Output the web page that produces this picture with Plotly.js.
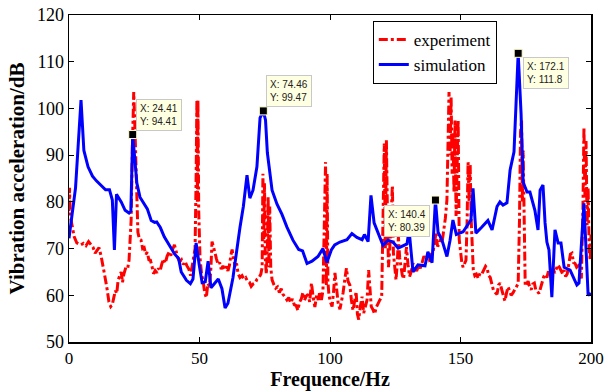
<!DOCTYPE html>
<html>
<head>
<meta charset="utf-8">
<script src="https://cdn.plot.ly/plotly-3.0.1.min.js"></script>
<style>html,body{margin:0;padding:0;background:#fff;}#chart{width:604px;height:391px;}</style>
</head>
<body>
<div id="chart"></div>
<script>
// Experiment (red dash-dot)
const expFreq = [0,0.2,0.5,1.2,2,3,4.5,5.5,6.5,7.5,8.3,9.2,10,10.8,11.5,12.3,13,13.6,14.6,15.3,16,16.6,17.2,17.8,18.3,18.8,19.5,20,20.5,21,21.8,22.5,23,23.8,24.3,24.8,25.3,25.8,26.4,27,27.6,28.2,28.8,29.4,30,30.6,31.2,31.8,32.4,33,33.7,34.3,34.9,35.6,36.3,36.9,37.6,38.3,39,39.7,40.4,41,41.7,42.4,43.1,43.8,44.5,45.2,45.9,46.6,47.2,47.8,48.3,48.7,49,49.2,49.4,49.7,50.2,50.8,51.4,52,52.6,53.2,53.8,54.3,54.8,55.3,55.9,56.5,57.1,57.7,58.3,59,59.7,60.4,60.9,61.5,62,62.5,63,63.6,64.2,64.8,65.5,66.3,67,67.7,68.4,69.1,69.8,70.5,71.3,72,72.8,73.5,74,74.3,74.6,74.9,75.2,75.6,76,76.3,76.6,76.9,77.3,77.8,78.5,79.2,79.9,80.6,81.3,82,82.8,83.5,84.2,84.9,85.6,86.3,87,87.7,88.3,89,89.6,90.2,90.9,91.6,92.2,92.9,93.5,94.2,94.9,95.5,96.1,96.7,97.3,97.8,98.3,98.6,98.9,99.2,99.6,100.2,100.8,101.4,101.9,102.5,103.1,103.8,104.4,105,105.7,106.3,106.9,107.6,108.2,108.8,109.4,110,110.5,111,111.6,112.3,112.9,113.5,114.2,114.8,115.3,115.8,116.4,117.1,117.7,118.4,119.1,119.8,120.3,120.8,121.2,121.6,122,122.4,122.9,123.4,123.9,124.3,124.8,125.3,125.8,126.2,126.7,127.2,127.7,128.2,128.8,129.3,129.9,130.5,131.1,131.8,132.5,133.2,133.9,134.6,135.3,136,136.7,137.4,138.1,138.8,139.5,140.1,140.6,141.2,141.8,142.4,143,143.6,144.2,144.8,145.3,145.6,146,146.4,146.8,147.1,147.5,147.9,148.3,148.7,149.1,149.5,149.9,150.5,151,151.6,152.1,152.5,152.9,153.3,153.7,154.1,154.5,154.9,155.5,156.1,156.8,157.5,158.2,158.9,159.6,160.2,160.8,161.4,162,162.6,163.3,164,164.6,165.2,165.8,166.4,167,167.6,168.2,168.8,169.4,170.1,170.8,171.5,172.1,172.6,173,173.4,173.7,174,174.4,174.8,175.3,175.9,176.5,177.1,177.7,178.3,178.9,179.5,180.1,180.7,181.3,181.9,182.5,183.1,183.7,184.3,184.9,185.5,186.1,186.7,187.3,187.9,188.5,189.1,189.7,190.3,190.9,191.5,192.1,192.7,193.3,193.9,194.5,195.1,195.7,196.3,196.9,197.3,197.7,198.1,198.5,198.9,199.3,199.7,200];
const expLevel = [78,83,77,74.5,72.5,71.2,70.8,71.1,70.6,71.5,70.8,70.3,69,69.6,70.2,68.4,66.5,64.5,61.3,58.6,57.6,58,59.6,61,60.4,63.2,64.3,65,62.8,64.5,66,65.8,67.5,76,92,103.5,95,82,73.5,72,71.8,70,70.2,68.8,69.2,67.6,67.5,66.2,64.6,65.3,64.8,65.8,65.2,66.8,67.8,66.9,68.4,69.2,68.5,69.8,70.8,69.5,68,67.2,67.6,66.6,67.2,66.3,65.6,64.2,66.4,68.5,70,85,101.8,80,101.8,78,68,64.5,63,60.5,59.5,62.5,62,65,71.5,70.5,69.4,67.8,66.6,67,65.6,66.3,65.4,66.2,65.2,66.5,68.5,69.8,68,66.3,66.8,64.6,63.8,64.2,63.5,63.8,63,62.8,61.9,62.4,62.6,63.4,63.8,64.5,66,86,72,84,68,64.5,70,81,66,79,66,63.3,62.3,61.5,61.8,60.6,61.4,60.2,59.6,59,59.5,58.4,59.2,58,57.8,56.8,58.5,59.2,60.6,58.9,59.8,60.2,58.6,62.6,59.8,57.5,60,59,60.8,59,61,80,88.5,62,86,63,60,58.5,57.6,61,64.8,61.6,58.4,57,58.8,60.5,63.5,65.8,63,62.2,59,56.8,58.6,60.8,56,54.8,57.5,59.7,56.2,57.6,59,65.4,62,57.6,57,56,57.4,58.3,59,59.6,75,92.5,70,93.2,78,66,70,76,83.5,69,66,63.3,67,72.5,68,66,64.3,63.5,67.5,70.3,66.5,64,65,66.8,66,65.2,66.3,65.8,67,68.4,67.6,68,67.2,68.8,69.3,72,73.3,70.5,70.8,72,71.6,74,76.5,80.4,95,103.5,90,102.4,86,95,82,97.5,77,86,97.5,72,69.5,67,66,66.8,67.5,75,88.5,80,88,76,70,65.4,64.2,64.5,63.6,64.8,64.6,65.6,66.2,65.8,64.2,63.8,62.3,61.1,60.6,60.2,62.2,62.6,61.2,60,58.8,60.4,61.8,61,60,60.5,61.2,61.8,62.5,76,95,97.5,80,91,72,62,62.4,63,61.8,61.2,62.4,62.6,61,60.8,60.4,61.6,62.3,64,64.5,63.8,65.2,65.4,64.3,65.6,64.8,65.5,66.5,66,65.2,64.6,65.4,64,64.6,66.5,68.8,69,67,66.8,66,66.3,65.4,63.6,78,96,80,93,75,83,70,67.5,73];

// Simulation (blue solid)
const simFreq = [0,2.5,4.6,5.7,7.3,9,10.5,12.5,14,15.5,16.6,17.4,18.2,20,21.5,23,23.7,24.41,25.3,26,27.2,29,30,31.5,32.8,33.6,35,36.5,38.7,40.5,42,43,45,46.5,47.5,48.7,49.9,51,52.2,53.3,54.4,56,57.2,58.6,59.8,60.9,62.8,65.5,66.8,68.2,69.3,70.5,72,73.2,74.46,75.3,76,77.8,79.7,81.6,83.5,85.8,88,89.5,91.2,93.1,95.4,97.3,98.8,100.5,101.8,103.8,106.5,108.4,110.3,112.3,113.2,114.6,115.7,116.9,118.6,120.3,122.2,124.1,126.1,128,129.5,130.3,131.8,133.7,136.4,137.5,139.1,140.4,141.4,142.9,144.8,146,147.1,148.4,151,152.9,154,154.8,155.9,158.2,160.5,162.1,164,165.1,166.3,167.8,169,170.5,172.1,173.2,174,175.5,176.6,178.5,179.7,180.5,181.6,182.4,183.1,183.9,185,186.2,187.4,188.5,189.7,192,194.6,195.4,197.3,198.9,200];
const simLevel = [72.2,83,101.8,91,87.5,85.5,84.5,83.3,82.6,82.6,80.4,69.7,81.6,80,78.2,77.6,78,94.41,89,84,81,79.3,78.5,76,75.6,75.7,74.5,72.5,70.5,68.8,67.9,65,63.2,62.5,63.5,71.2,66.5,62.7,62.9,67.3,61.6,62.8,63.5,61.4,57.3,58.3,63.7,74.5,79,85.7,80.8,82.5,87.5,98,99.47,97.5,90.5,82.5,79.5,77.3,74.6,71.8,69.8,69.5,66.8,67.3,68.3,70,67,69.7,70.8,71.4,71.9,73.2,72.4,71.9,73,71.5,81.4,75.5,73,70.7,71.8,71.4,70.1,70.7,71,74,65,66.5,66.3,69.3,67,80.39,73.5,71.8,68.3,71.8,76.1,73,73.6,75.2,76.1,82.9,73.3,74.6,76,74,79,80,79.3,79.8,86.8,90.7,111.8,99,84.2,82.1,82.1,78.2,74,82.5,83.6,75.5,71.4,69.7,59.6,74,71.2,71.2,66,65.4,62.2,62.6,79.7,60,60.4];

// Data tips
const tipX = [24.41, 74.46, 140.4, 172.1];
const tipY = [94.41, 99.47, 80.39, 111.8];
const tipText = ['X: 24.41<br>Y: 94.41', 'X: 74.46<br>Y: 99.47', 'X: 140.4<br>Y: 80.39', 'X: 172.1<br>Y: 111.8'];

const xTicks = [0, 50, 100, 150, 200];
const yTicks = [50, 60, 70, 80, 90, 100, 110, 120];

const serif = 'Liberation Serif, Times New Roman, serif';

const traces = [
  {x: expFreq, y: expLevel, type: 'scatter', mode: 'lines', name: 'experiment',
   line: {color: '#ff0000', width: 3, dash: 'dashdot'}},
  {x: simFreq, y: simLevel, type: 'scatter', mode: 'lines', name: 'simulation',
   line: {color: '#0000ff', width: 3}},
  {x: tipX, y: tipY, type: 'scatter', mode: 'markers', showlegend: false, hoverinfo: 'skip',
   marker: {symbol: 'square', size: 8, color: '#000', line: {color: '#ffffd0', width: 1}}}
];

const tipPos = [
  {xanchor: 'left', yanchor: 'bottom', xshift: 3, yshift: 4},
  {xanchor: 'left', yanchor: 'bottom', xshift: 3, yshift: 4},
  {xanchor: 'right', yanchor: 'top', xshift: -5, yshift: -5},
  {xanchor: 'left', yanchor: 'top', xshift: 5, yshift: -4}
];

const annotations = tipX.map((x, i) => Object.assign({
  x: x, y: tipY[i], xref: 'x', yref: 'y', text: tipText[i], showarrow: false, align: 'left',
  font: {family: 'Liberation Sans, Arial, sans-serif', size: 10, color: '#222'},
  bgcolor: '#ffffe1', bordercolor: '#c8c8c8', borderwidth: 1, borderpad: 3
}, tipPos[i]));

const layout = {
  width: 604, height: 391,
  margin: {l: 69, r: 13, t: 15, b: 49},
  paper_bgcolor: '#fff', plot_bgcolor: '#fff',
  showlegend: true,
  legend: {x: 0.582, y: 0.982, xanchor: 'left', yanchor: 'top',
    bgcolor: '#fff', bordercolor: '#000', borderwidth: 1,
    font: {family: serif, size: 17, color: '#000'}, tracegroupgap: 0},
  xaxis: {range: [0, 200], tickvals: xTicks, ticktext: xTicks.map(String),
    ticks: 'inside', ticklen: 5, tickcolor: '#000', tickwidth: 1,
    showline: true, linecolor: '#000', linewidth: 1.5, mirror: 'ticks',
    showgrid: false, zeroline: false,
    tickfont: {family: serif, size: 17, color: '#000'},
    title: {text: '<b>Frequence/Hz</b>', standoff: 0, font: {family: serif, size: 20, color: '#000'}}},
  yaxis: {range: [50, 120], tickvals: yTicks, ticktext: yTicks.map(String),
    ticks: 'inside', ticklen: 5, tickcolor: '#000', tickwidth: 1,
    showline: true, linecolor: '#000', linewidth: 1.5, mirror: 'ticks',
    showgrid: false, zeroline: false,
    tickfont: {family: serif, size: 18, color: '#000'},
    title: {text: '<b>Vibration acceleration/dB</b>', standoff: 6, font: {family: serif, size: 21, color: '#000'}}},
  annotations: annotations
};

Plotly.newPlot('chart', traces, layout, {displayModeBar: false, staticPlot: true});
</script>
</body>
</html>
